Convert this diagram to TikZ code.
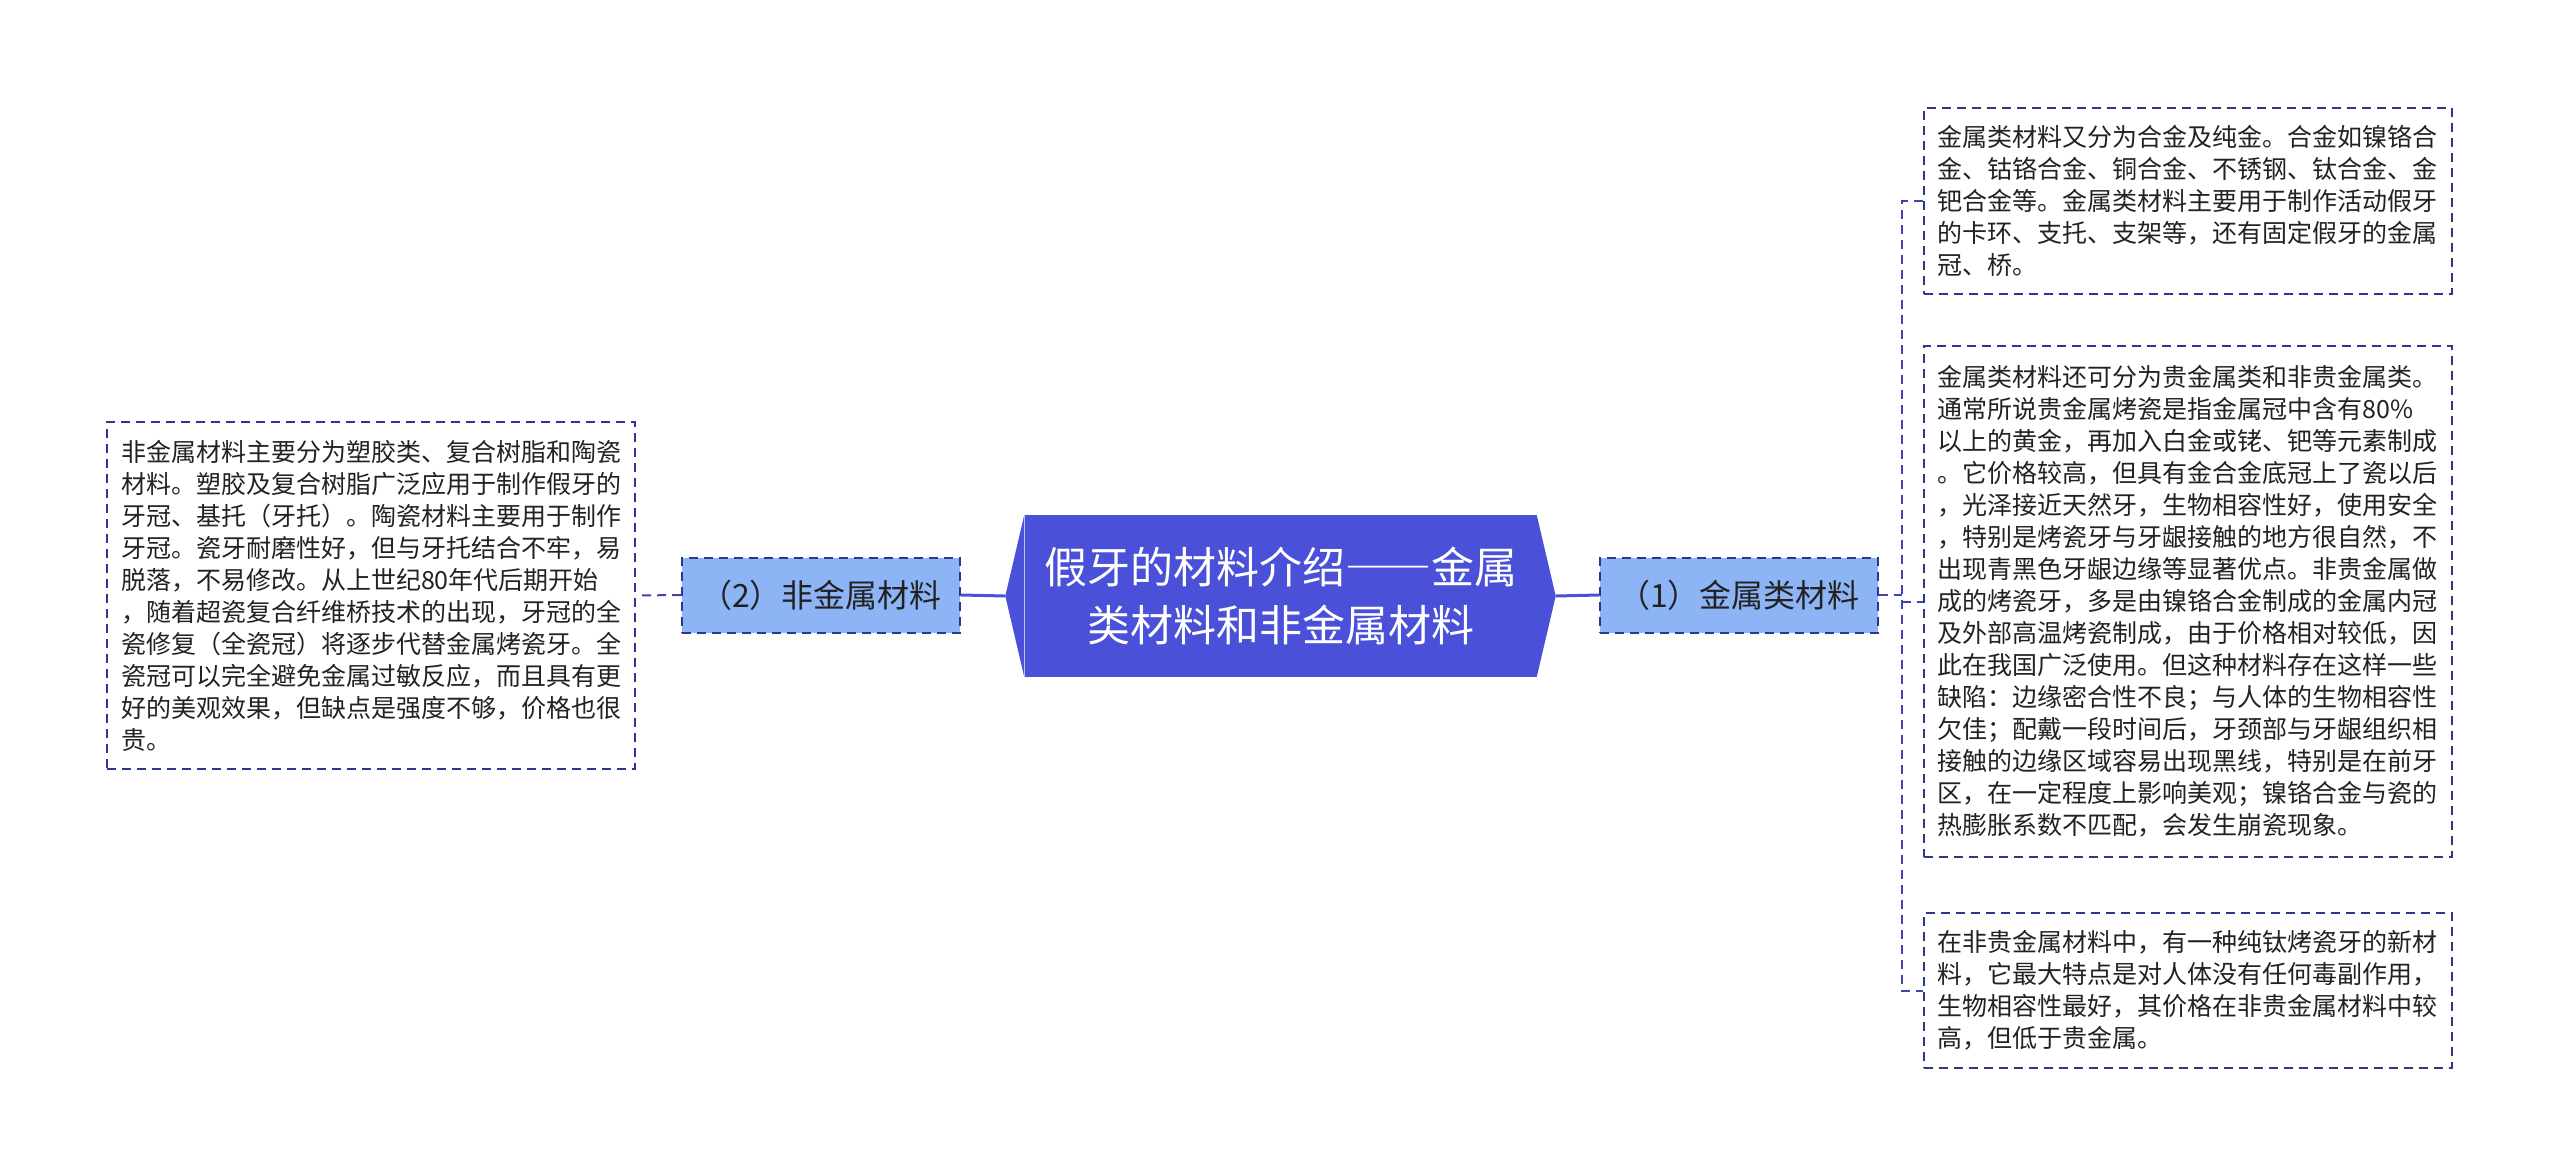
\documentclass[tikz,border=0pt]{standalone}
\usepackage{fontspec}
\setmainfont{Noto Sans CJK SC}
\usetikzlibrary{positioning}
\definecolor{hubfill}{HTML}{4A51D8}
\definecolor{subfill}{HTML}{8DB5F6}
\definecolor{navy}{HTML}{2C3890}
\definecolor{linkblue}{HTML}{3D43B0}
\definecolor{txt}{HTML}{222222}
\tikzset{
  hub/.style={rectangle, fill=hubfill, text=white, inner sep=0pt,
    minimum width=512pt, minimum height=162pt, align=center,
    font=\fontsize{43}{58}\selectfont},
  sub/.style={rectangle, fill=subfill, draw=navy, line width=2pt,
    dash pattern=on 9pt off 6pt, inner sep=0pt,
    minimum width=278pt, minimum height=75pt, text=txt,
    font=\fontsize{32}{38}\selectfont},
  leaf/.style={rectangle, draw=navy, line width=2pt, dash pattern=on 9pt off 6pt,
    fill=white, inner xsep=14pt, inner ysep=0pt, text width=500pt, align=left,
    text=txt, font=\fontsize{25}{32}\selectfont},
  solidlink/.style={draw=hubfill, line width=3pt},
  dashlink/.style={draw=linkblue, line width=2pt, dash pattern=on 9pt off 6pt},
}
\begin{document}
\begin{tikzpicture}[x=1pt,y=-1pt]
\useasboundingbox[fill=white] (0,0) rectangle (2560,1175);

% central topic
\node[hub] (c) at (1280.5,596) {假牙的材料介绍{\addfontfeatures{CharacterWidth=Full}——}金属\\类材料和非金属材料};
\coordinate (cl) at ([xshift=-19pt]c.west);
\coordinate (cr) at ([xshift=19pt]c.east);
\fill[hubfill] (c.north west) -- (cl) -- (c.south west) -- cycle;
\fill[hubfill] (c.north east) -- (cr) -- (c.south east) -- cycle;

% subtopics
\node[sub] (n1) at (1739,595) {（1）金属类材料};
\node[sub] (n2) at (821,595) {（2）非金属材料};

% left leaf
\node[leaf, minimum height=347pt] (lb) at (371,595.5) {非金属材料主要分为塑胶类、复合树脂和陶瓷\\材料。塑胶及复合树脂广泛应用于制作假牙的\\牙冠、基托（牙托）。陶瓷材料主要用于制作\\牙冠。瓷牙耐磨性好，但与牙托结合不牢，易\\脱落，不易修改。从上世纪80年代后期开始\\，随着超瓷复合纤维桥技术的出现，牙冠的全\\瓷修复（全瓷冠）将逐步代替金属烤瓷牙。全\\瓷冠可以完全避免金属过敏反应，而且具有更\\好的美观效果，但缺点是强度不够，价格也很\\贵。};

% right leaves
\node[leaf, minimum height=186pt] (r1) at (2187.5,201) {金属类材料又分为合金及纯金。合金如镍铬合\\金、钴铬合金、铜合金、不锈钢、钛合金、金\\钯合金等。金属类材料主要用于制作活动假牙\\的卡环、支托、支架等，还有固定假牙的金属\\冠、桥。};
\node[leaf, minimum height=511pt] (r2) at (2187.5,601.5) {金属类材料还可分为贵金属类和非贵金属类。\\通常所说贵金属烤瓷是指金属冠中含有80\%\\以上的黄金，再加入白金或铑、钯等元素制成\\。它价格较高，但具有金合金底冠上了瓷以后\\，光泽接近天然牙，生物相容性好，使用安全\\，特别是烤瓷牙与牙龈接触的地方很自然，不\\出现青黑色牙龈边缘等显著优点。非贵金属做\\成的烤瓷牙，多是由镍铬合金制成的金属内冠\\及外部高温烤瓷制成，由于价格相对较低，因\\此在我国广泛使用。但这种材料存在这样一些\\缺陷：边缘密合性不良；与人体的生物相容性\\欠佳；配戴一段时间后，牙颈部与牙龈组织相\\接触的边缘区域容易出现黑线，特别是在前牙\\区，在一定程度上影响美观；镍铬合金与瓷的\\热膨胀系数不匹配，会发生崩瓷现象。};
\node[leaf, minimum height=155pt] (r3) at (2187.5,990.5) {在非贵金属材料中，有一种纯钛烤瓷牙的新材\\料，它最大特点是对人体没有任何毒副作用，\\生物相容性最好，其价格在非贵金属材料中较\\高，但低于贵金属。};

% connectors
\draw[solidlink] (cl) -- (n2.east);
\draw[solidlink] (cr) -- (n1.west);
\draw[dashlink] (n2.west) -- (lb.east);
\coordinate (bx) at ([xshift=-21pt]r2.west);
\draw[dashlink] (n1.east) -- (n1.east -| bx);
\draw[dashlink] (r1.west) -- (r1.west -| bx) -- (r3.west -| bx) -- (r3.west);
\draw[dashlink] (bx) -- (r2.west);
\end{tikzpicture}
\end{document}
